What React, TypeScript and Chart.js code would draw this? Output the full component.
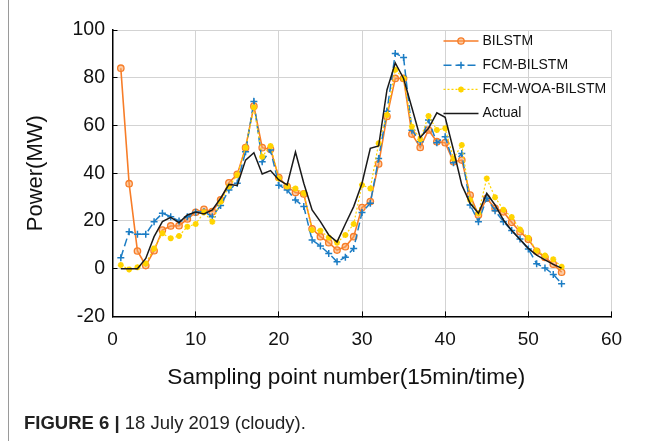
import React, { useEffect, useRef } from 'react';
import { Chart, registerables } from 'chart.js';
import { drawPoint } from 'chart.js/helpers';

Chart.register(...registerables);

const samplePoints = [
  1, 2, 3, 4, 5, 6, 7, 8, 9, 10, 11, 12, 13, 14, 15, 16, 17, 18,
  19, 20, 21, 22, 23, 24, 25, 26, 27, 28, 29, 30, 31, 32, 33, 34, 35, 36,
  37, 38, 39, 40, 41, 42, 43, 44, 45, 46, 47, 48, 49, 50, 51, 52, 53, 54,
];

const bilstm = [
  84, 35.6, 7.4, 1.3, 7.5, 16.2, 17.9, 18, 20.8, 23.6, 24.9, 23.9, 28.8, 36, 39.5, 50.7, 68.1, 50.7,
  50, 38.2, 34.4, 31.9, 31.3, 16.7, 13.4, 10.9, 7.8, 9.2, 13.4, 25.6, 28.1, 43.9, 63.8, 79.7, 79.7, 56.4,
  50.8, 58.1, 53.2, 52.8, 44.8, 45.5, 30.8, 22.5, 29.5, 25.3, 23.8, 19.4, 15.5, 12.3, 7.3, 4.7, 1.9, -1.5,
];

const fcmBilstm = [
  4.6, 15.5, 14.4, 14.4, 19.7, 23.2, 21.8, 20, 21.8, 23.6, 23.9, 21.8, 26.5, 33, 35.8, 49, 70, 44.8,
  49.7, 35, 33, 28.8, 26, 12, 9.5, 6.4, 2.9, 4.8, 8.5, 23.5, 27.4, 46.2, 66, 90.2, 88.5, 58,
  53.2, 62.3, 52.8, 55.3, 44.4, 48.3, 26.7, 19.7, 29.5, 24.3, 19.7, 16, 12.4, 8.2, 2.1, 0.3, -2.4, -6.3,
];

const fcmWoaBilstm = [
  1.5, -0.3, 0.6, 2.2, 8.5, 14.8, 12.7, 13.7, 17.6, 18.7, 23.6, 19.7, 28, 34.4, 39.2, 50.7, 67.6, 46.9,
  51.4, 37.8, 34.4, 33.6, 31.6, 16.2, 15.9, 13.1, 10.9, 14.1, 18.7, 35.1, 33.6, 52.5, 64.4, 83.3, 79.7, 59.5,
  54.2, 64, 58.1, 58.8, 46.2, 51.8, 28.8, 23.2, 37.8, 29.9, 24.7, 21.6, 16.4, 12.9, 7.5, 5.5, 3.9, 0.8,
];

const actual = [
  0, 0, 0, 4.3, 13.4, 19.7, 21.5, 19.3, 22.5, 23.7, 22.9, 24.6, 29.5, 35.3, 34.9, 45.5, 48.6, 39.7,
  41.1, 37.2, 35.1, 48.9, 35.8, 24.6, 19.7, 14.1, 11.2, 18.7, 26, 35.8, 50.4, 51.4, 74.9, 86.2, 79.7, 67.4,
  55, 58.8, 65.3, 63.4, 49.7, 35.1, 27.4, 23.2, 31.6, 26.7, 20.4, 16, 12.2, 8.5, 5.7, 3.7, 1.8, 0.2,
];

const seriesLabels = ['BILSTM', 'FCM-BILSTM', 'FCM-WOA-BILSTM', 'Actual'];
const xTickValues = [0, 10, 20, 30, 40, 50, 60];
const yTickValues = [-20, 0, 20, 40, 60, 80, 100];

const FONT = 'Arial, "Liberation Sans", Helvetica, sans-serif';

const toPoints = (vals: number[]) => samplePoints.map((x, i) => ({ x, y: vals[i] }));

const insideLegend = {
  id: 'insideLegend',
  afterDraw(chart: any) {
    const { ctx, chartArea } = chart;
    const lineStart = chartArea.right - 168;
    const lineLen = 35;
    ctx.save();
    ctx.font = `14px ${FONT}`;
    ctx.textBaseline = 'middle';
    ctx.textAlign = 'left';
    chart.data.datasets.forEach((ds: any, i: number) => {
      const y = chartArea.top + 11 + 24.2 * i;
      ctx.save();
      ctx.strokeStyle = ds.borderColor;
      ctx.lineWidth = ds.borderWidth;
      ctx.setLineDash(ds.borderDash || []);
      ctx.beginPath();
      ctx.moveTo(lineStart, y);
      ctx.lineTo(lineStart + lineLen, y);
      ctx.stroke();
      ctx.restore();
      if (ds.pointRadius > 0) {
        ctx.save();
        ctx.strokeStyle = ds.pointBorderColor || ds.borderColor;
        ctx.fillStyle = ds.pointBackgroundColor || ds.borderColor;
        ctx.lineWidth = ds.pointBorderWidth || 1;
        drawPoint(ctx, { pointStyle: ds.pointStyle, radius: ds.pointRadius, rotation: 0, borderWidth: ds.pointBorderWidth || 1 }, lineStart + lineLen / 2, y);
        ctx.restore();
      }
      ctx.fillStyle = '#111';
      ctx.fillText(ds.label, lineStart + lineLen + 4, y);
    });
    ctx.restore();
  },
};

export default function App() {
  const canvasRef = useRef<HTMLCanvasElement | null>(null);

  useEffect(() => {
    const canvas = canvasRef.current;
    if (!canvas) return;
    const chart = new Chart(canvas, {
      type: 'line',
      data: {
        datasets: [
          {
            label: seriesLabels[0],
            data: toPoints(bilstm),
            borderColor: '#F77D28',
            backgroundColor: '#F77D28',
            borderWidth: 1.6,
            pointStyle: 'circle',
            pointRadius: 3.2,
            pointBorderWidth: 1.3,
            pointBorderColor: '#F77D28',
            pointBackgroundColor: 'rgba(250,160,90,0.55)',
            order: 4,
          },
          {
            label: seriesLabels[1],
            data: toPoints(fcmBilstm),
            borderColor: '#1C7DC4',
            backgroundColor: '#1C7DC4',
            borderWidth: 1.5,
            borderDash: [8, 4],
            pointStyle: 'cross',
            pointRadius: 3.5,
            pointBorderWidth: 1.5,
            pointBorderColor: '#1C7DC4',
            pointBackgroundColor: '#1C7DC4',
            order: 3,
          },
          {
            label: seriesLabels[2],
            data: toPoints(fcmWoaBilstm),
            borderColor: '#FFD400',
            backgroundColor: '#FFD400',
            borderWidth: 1.2,
            borderDash: [2, 2],
            pointStyle: 'star',
            pointRadius: 3,
            pointBorderWidth: 1.8,
            pointBorderColor: '#FFD400',
            pointBackgroundColor: '#FFD400',
            order: 2,
          },
          {
            label: seriesLabels[3],
            data: toPoints(actual),
            borderColor: '#1a1a1a',
            backgroundColor: '#1a1a1a',
            borderWidth: 1.5,
            pointRadius: 0,
            order: 1,
          },
        ],
      },
      options: {
        responsive: false,
        devicePixelRatio: 1,
        animation: false,
        layout: { padding: { left: 0, right: 39.5, top: 30, bottom: 49.8 } },
        plugins: {
          legend: { display: false },
          tooltip: { enabled: false },
        },
        scales: {
          x: {
            type: 'linear',
            min: 0,
            max: 60,
            afterFit: (scale: any) => {
              scale.height = 74.8;
            },
            afterBuildTicks: (scale: any) => {
              scale.ticks = xTickValues.map((v) => ({ value: v }));
            },
            ticks: {
              color: '#111',
              font: { family: FONT, size: 19 },
              padding: 17,
              maxRotation: 0,
            },
            grid: {
              color: '#d3d3d3',
              lineWidth: 1,
              drawTicks: true,
              tickLength: -5,
              tickColor: '#000',
              tickWidth: 1,
            },
            border: { display: true, color: '#000', width: 1.5 },
            title: {
              display: true,
              text: 'Sampling point number(15min/time)\u00A0\u00A0\u00A0\u00A0\u00A0',
              color: '#111',
              font: { family: FONT, size: 22.6 },
              padding: { top: 0, bottom: 0 },
            },
          },
          y: {
            type: 'linear',
            min: -20,
            max: 100,
            afterFit: (scale: any) => {
              scale.width = 112.5;
            },
            afterBuildTicks: (scale: any) => {
              scale.ticks = yTickValues.map((v) => ({ value: v }));
            },
            ticks: {
              color: '#111',
              font: { family: FONT, size: 19.5 },
              padding: 12.5,
            },
            grid: {
              color: '#d3d3d3',
              lineWidth: 1,
              drawTicks: true,
              tickLength: -5,
              tickColor: '#000',
              tickWidth: 1,
            },
            border: { display: true, color: '#000', width: 1.5 },
            title: {
              display: true,
              text: 'Power(MW)',
              color: '#111',
              font: { family: FONT, size: 22 },
              padding: { top: 23, bottom: 0 },
            },
          },
        },
      } as any,
      plugins: [insideLegend],
    });
    return () => chart.destroy();
  }, []);

  return (
    <div style={{ position: 'absolute', left: 0, top: 0, width: 651, height: 441, background: '#fff' }}>
      <div style={{ position: 'absolute', left: 8, top: 0, width: 1, height: 441, background: '#9a9a9a' }} />
      <canvas ref={canvasRef} width={651} height={441} style={{ position: 'absolute', left: 0, top: 0 }} />
      <div
        style={{
          position: 'absolute',
          left: 24,
          top: 412,
          fontFamily: FONT,
          fontSize: 18.5,
          lineHeight: '22px',
          color: '#222',
          whiteSpace: 'nowrap',
        }}
      >
        <b>FIGURE 6 |</b> 18 July 2019 (cloudy).
      </div>
    </div>
  );
}
